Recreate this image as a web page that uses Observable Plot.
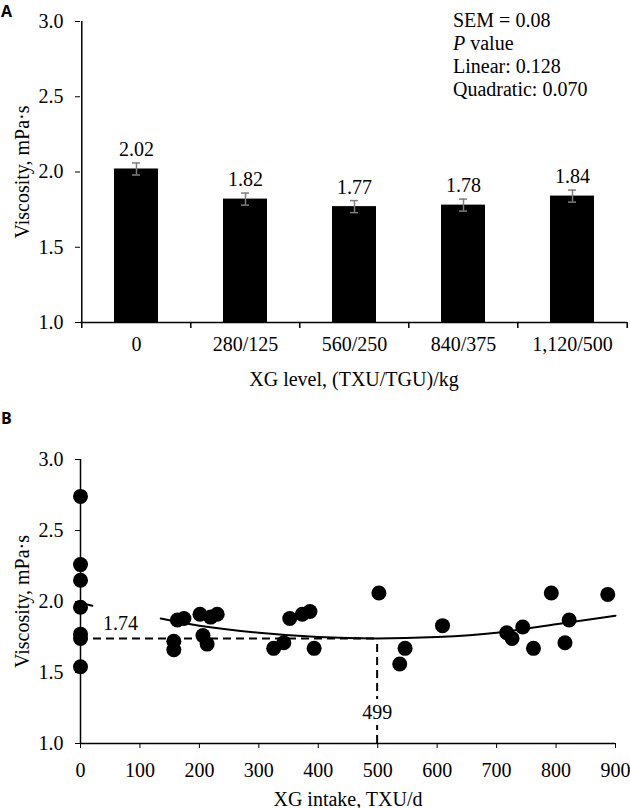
<!DOCTYPE html>
<html><head><meta charset="utf-8">
<script src="https://cdn.jsdelivr.net/npm/d3@7"></script>
<script src="https://cdn.jsdelivr.net/npm/@observablehq/plot@0.6"></script>
<style>
body{margin:0;background:#fff;width:630px;height:808px;position:relative;overflow:hidden;font-family:"Liberation Serif",serif;}
.panel{position:absolute;left:0;}
.tag{position:absolute;left:1px;font-family:"Open Sans",sans-serif;font-weight:700;font-size:16px;line-height:18px;}
</style></head><body>
<div id="a" class="panel" style="top:0"></div>
<div id="b" class="panel" style="top:400px"></div>
<div class="tag" style="top:2px">A</div>
<div class="tag" style="top:409px">B</div>
<script>
// ---- Panel A data ----
const levels = ["0", "280/125", "560/250", "840/375", "1,120/500"];
const viscosityMeans = [2.02, 1.82, 1.77, 1.78, 1.84];
const errorHalf = [0.04, 0.04, 0.04, 0.04, 0.04];
const yTicks = [1.0, 1.5, 2.0, 2.5, 3.0];
const annotationLines = ["SEM = 0.08", "P value", "Linear: 0.128", "Quadratic: 0.070"];

// ---- Panel B data ----
const intake = [0, 0, 0, 0, 0, 0, 0,
  157, 157, 163, 174, 201, 206, 213, 219, 230,
  325, 342, 352, 373, 386, 393,
  502, 537, 546, 609,
  717, 726, 744, 762, 792, 815, 822, 887];
const viscosity = [2.74, 2.26, 2.15, 1.96, 1.77, 1.74, 1.54,
  1.72, 1.66, 1.87, 1.88, 1.91, 1.76, 1.70, 1.89, 1.91,
  1.67, 1.71, 1.88, 1.91, 1.93, 1.67,
  2.06, 1.56, 1.67, 1.83,
  1.78, 1.74, 1.82, 1.67, 2.06, 1.71, 1.87, 2.05];
const xTicksB = [0, 100, 200, 300, 400, 500, 600, 700, 800, 900];
const fitX = [0, 20, 135, 200, 300, 400, 499, 600, 700, 800, 900];
const fitY = [1.99, 1.97, 1.88, 1.83, 1.78, 1.75, 1.74, 1.75, 1.78, 1.84, 1.90];
const fitSegment = [0, 0, 1, 1, 1, 1, 1, 1, 1, 1, 1];
const optimumX = 499;
const optimumY = 1.74;

const fmt1 = d => d.toFixed(1);
const baseStyle = {fontFamily: "Liberation Serif, serif", fontSize: "20px", color: "#000", background: "#fff", overflow: "visible"};

// ---- Panel A ----
const W = 630, HA = 390, mlA = 80, mrA = 3, mtA = 21, mbA = 68;
const step = (W - mlA - mrA) / levels.length;
const bars = levels.map((l, i) => ({level: l, mean: viscosityMeans[i], lo: viscosityMeans[i] - errorHalf[i], hi: viscosityMeans[i] + errorHalf[i]}));
const errColor = "#7f7f7f";

const chartA = Plot.plot({
  width: W, height: HA, marginLeft: mlA, marginRight: mrA, marginTop: mtA, marginBottom: mbA,
  style: baseStyle,
  x: {type: "band", domain: levels, paddingInner: 0.6, paddingOuter: 0.3, align: 0.5},
  y: {domain: [1, 3]},
  marks: [
    Plot.barY(bars, {x: "level", y1: d => 1, y2: "mean", fill: "black"}),
    Plot.ruleX(bars, {x: "level", y1: "lo", y2: "hi", stroke: errColor, strokeWidth: 1.5}),
    Plot.tickY(bars, {x: "level", y: "lo", stroke: errColor, strokeWidth: 1.5, insetLeft: 18, insetRight: 18}),
    Plot.tickY(bars, {x: "level", y: "hi", stroke: errColor, strokeWidth: 1.5, insetLeft: 18, insetRight: 18}),
    Plot.text(bars, {x: "level", y: "hi", text: d => d.mean.toFixed(2), dy: -13, fill: "black"}),
    Plot.ruleY([1], {stroke: "black", strokeWidth: 1.5}),
    Plot.ruleX([levels[0]], {x: d => d, y1: d => 1, y2: d => 3, dx: -step / 2, stroke: "black", strokeWidth: 1.5}),
    Plot.ruleX(levels, {x: d => d, y1: d => 1, y2: d => 1, dx: -step / 2, insetBottom: -6, stroke: "black", strokeWidth: 1.5}),
    Plot.ruleX([levels[levels.length - 1]], {x: d => d, y1: d => 1, y2: d => 1, dx: step / 2, insetBottom: -6, stroke: "black", strokeWidth: 1.5}),
    Plot.axisX({tickSize: 0, tickPadding: 14, label: "XG level, (TXU/TGU)/kg", labelAnchor: "center", labelOffset: 63, labelArrow: false}),
    Plot.axisY({ticks: yTicks, tickFormat: fmt1, tickSize: 5, tickPadding: 12, label: "Viscosity, mPa·s", labelAnchor: "center", labelOffset: 66, labelArrow: false})
  ]
});
document.getElementById("a").appendChild(chartA);

// annotation with italic P
{
  const svg = d3.select(chartA.tagName.toLowerCase() === "svg" ? chartA : chartA.querySelector("svg"));
  const g = svg.append("g").attr("font-family", "Liberation Serif, serif").attr("font-size", 20)
    .attr("fill", "black").attr("text-anchor", "start");
  annotationLines.forEach((t, i) => {
    const tx = g.append("text").attr("x", 453).attr("y", 27 + i * 23).attr("text-anchor", "start");
    if (t.startsWith("P ")) {
      tx.append("tspan").attr("font-style", "italic").text("P");
      tx.append("tspan").text(t.slice(1));
    } else tx.text(t);
  });
}

// ---- Panel B ----
const points = intake.map((x, i) => ({x, y: viscosity[i]}));
const fit = fitX.map((x, i) => ({x, y: fitY[i], s: fitSegment[i]}));
const chartB = Plot.plot({
  width: W, height: 408, marginLeft: 80, marginRight: 15, marginTop: 59, marginBottom: 65,
  style: baseStyle,
  x: {domain: [0, 900]},
  y: {domain: [1, 3]},
  marks: [
    Plot.ruleY([1], {stroke: "black", strokeWidth: 1.5}),
    Plot.ruleX([0], {y1: d => 1, y2: d => 3, stroke: "black", strokeWidth: 1.5}),
    Plot.axisX({ticks: xTicksB, tickSize: 5, tickPadding: 14, label: "XG intake, TXU/d", labelAnchor: "center", labelArrow: false}),
    Plot.axisY({ticks: yTicks, tickFormat: fmt1, tickSize: 5, tickPadding: 12, label: "Viscosity, mPa·s", labelAnchor: "center", labelOffset: 66, labelArrow: false}),
    Plot.ruleY([optimumY], {x1: d => 0, x2: d => optimumX, stroke: "black", strokeWidth: 2, strokeDasharray: "8,5"}),
    Plot.ruleX([optimumX], {y1: d => 1, y2: d => optimumY, stroke: "black", strokeWidth: 2, strokeDasharray: "8,5"}),
    Plot.line(fit, {x: "x", y: "y", z: "s", curve: "natural", stroke: "black", strokeWidth: 2}),
    Plot.dot(points, {x: "x", y: "y", r: 7.5, fill: "black", stroke: "none"}),
    Plot.text([optimumY], {x: d => 0, y: d => d, text: d => d.toFixed(2), dx: 40, dy: -15, fill: "black"}),
    Plot.text([optimumX], {x: d => d, y: d => 1, text: d => String(d), dy: -31, fill: "black", stroke: "white", strokeWidth: 12})
  ]
});
document.getElementById("b").appendChild(chartB);
</script>
</body></html>
